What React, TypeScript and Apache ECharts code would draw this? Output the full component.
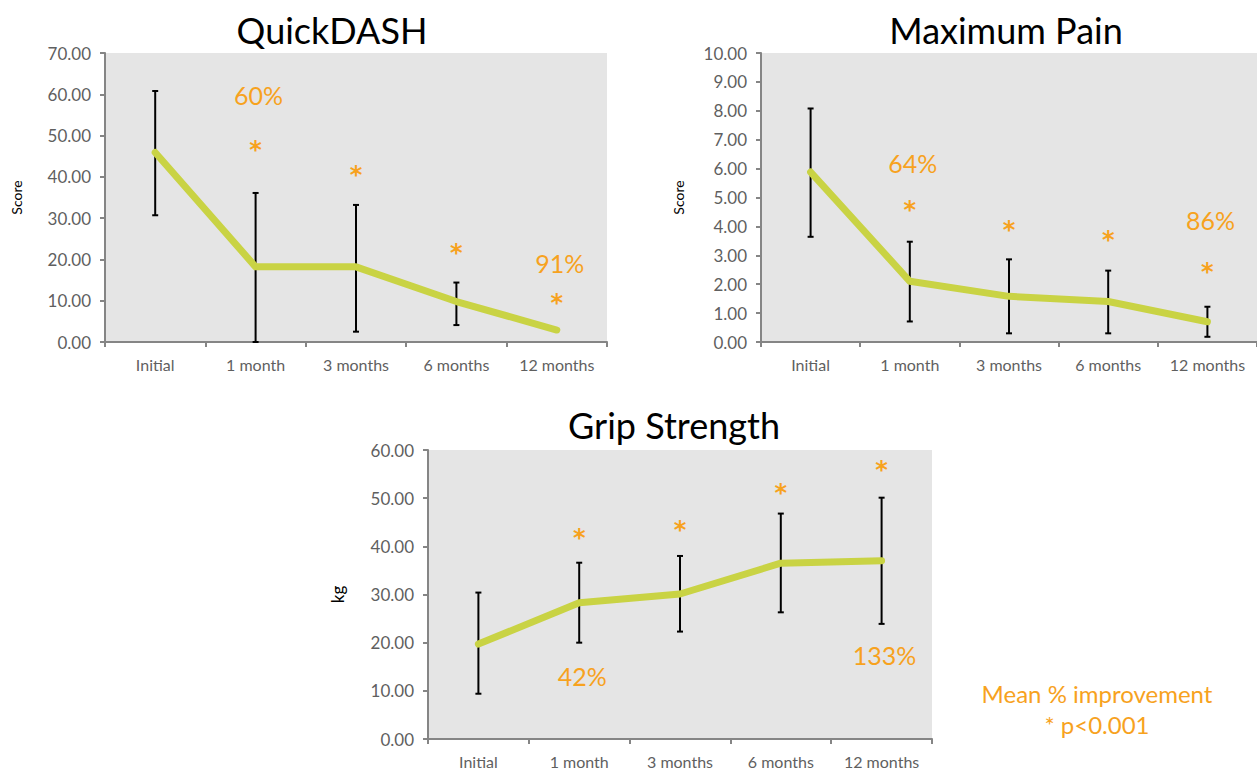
import React, { useEffect, useRef } from "react";
import * as echarts from "echarts";

const categories = ["Initial", "1 month", "3 months", "6 months", "12 months"];

const dashMean = [45.9, 18.2, 18.2, 9.8, 2.9];
const dashLow = [30.7, 0.0, 2.5, 4.1, 2.9];
const dashHigh = [60.8, 36.1, 33.2, 14.4, 2.9];
const dashStars = [null, 47.9, 41.9, 23.1, 11.0];
const dashPctCats = [1, 4];
const dashPctY = [59.8, 19.1];
const dashPctText = ["60%", "91%"];
const dashTicks = [0, 70, 10];

const painMean = [5.88, 2.1, 1.58, 1.4, 0.7];
const painLow = [3.64, 0.71, 0.3, 0.3, 0.18];
const painHigh = [8.08, 3.47, 2.86, 2.47, 1.22];
const painStars = [null, 4.77, 4.08, 3.75, 2.62];
const painPctCats = [1, 4];
const painPctY = [6.19, 4.21];
const painPctText = ["64%", "86%"];
const painTicks = [0, 10, 1];

const gripMean = [19.7, 28.3, 30.1, 36.5, 37.0];
const gripLow = [9.4, 20.0, 22.3, 26.3, 23.9];
const gripHigh = [30.4, 36.6, 38.0, 46.8, 50.1];
const gripStars = [null, 42.9, 44.7, 52.3, 57.1];
const gripPctCats = [1, 4];
const gripPctY = [13.1, 17.5];
const gripPctText = ["42%", "133%"];
const gripTicks = [0, 60, 10];

const titles = ["QuickDASH", "Maximum Pain", "Grip Strength"];
const yNames = ["Score", "Score", "kg"];
const noteLines = ["Mean % improvement", "* p<0.001"];

const FONT = "Lato, 'Noto Sans', sans-serif";
const STAR_FONT = "'DejaVu Sans', sans-serif";
const ORANGE = "#F7A21E";
const LINE = "#C9D344";
const AXIS = "#858585";
const LABEL = "#5f5f5f";

export default function App() {
  const ref = useRef<HTMLDivElement>(null);
  useEffect(() => {
    if (!ref.current) return;
    const chart = echarts.init(ref.current, null, { renderer: "svg" });

    const grids = [
      { left: 105, top: 53, width: 502, height: 289 },
      { left: 761, top: 53, width: 501.5, height: 289 },
      { left: 428, top: 450, width: 504, height: 289 },
    ];
    const sets = [
      { mean: dashMean, low: dashLow, high: dashHigh, stars: dashStars, pc: dashPctCats, py: dashPctY, pt: dashPctText, ticks: dashTicks },
      { mean: painMean, low: painLow, high: painHigh, stars: painStars, pc: painPctCats, py: painPctY, pt: painPctText, ticks: painTicks },
      { mean: gripMean, low: gripLow, high: gripHigh, stars: gripStars, pc: gripPctCats, py: gripPctY, pt: gripPctText, ticks: gripTicks },
    ];

    const xAxis: any[] = [];
    const yAxis: any[] = [];
    const series: any[] = [];

    sets.forEach((s, i) => {
      xAxis.push({
        type: "category",
        gridIndex: i,
        data: categories,
        boundaryGap: true,
        axisLine: { lineStyle: { color: AXIS, width: 2 } },
        axisTick: { show: true, length: 5, interval: 0, lineStyle: { color: AXIS, width: 2 } },
        axisLabel: { color: LABEL, fontSize: 16, fontFamily: FONT, margin: 14, interval: 0 },
        splitLine: { show: false },
      });
      yAxis.push({
        type: "value",
        gridIndex: i,
        min: s.ticks[0],
        max: s.ticks[1],
        interval: s.ticks[2],
        name: yNames[i],
        nameLocation: "middle",
        nameRotate: 90,
        nameGap: i === 1 ? 76 : 82,
        nameTextStyle: { color: "#000", fontSize: i === 2 ? 17 : 14, fontFamily: FONT },
        axisLine: { show: true, lineStyle: { color: AXIS, width: 2 } },
        axisTick: { show: true, length: 5, lineStyle: { color: AXIS, width: 2 } },
        axisLabel: { color: LABEL, fontSize: 17, fontFamily: FONT, margin: 14, formatter: (v: number) => v.toFixed(2) },
        splitLine: { show: false },
      });
      series.push({
        type: "custom",
        xAxisIndex: i,
        yAxisIndex: i,
        z: 2,
        data: categories.map((_, k) => [k, s.low[k], s.high[k]]),
        renderItem: (params: any, api: any) => {
          const x = api.value(0);
          const lo = api.value(1);
          const hi = api.value(2);
          if (lo === hi) return { type: "group", children: [] };
          const a = api.coord([x, lo]);
          const b = api.coord([x, hi]);
          const cap = 3;
          const st = { stroke: "#000", lineWidth: 2 };
          return {
            type: "group",
            children: [
              { type: "line", shape: { x1: a[0], y1: a[1], x2: b[0], y2: b[1] }, style: st },
              { type: "line", shape: { x1: a[0] - cap, y1: a[1], x2: a[0] + cap, y2: a[1] }, style: st },
              { type: "line", shape: { x1: b[0] - cap, y1: b[1], x2: b[0] + cap, y2: b[1] }, style: st },
            ],
          };
        },
      });
      series.push({
        type: "line",
        xAxisIndex: i,
        yAxisIndex: i,
        z: 3,
        data: s.mean,
        symbol: "none",
        lineStyle: { color: LINE, width: 7, cap: "round", join: "round" },
      });
      series.push({
        type: "custom",
        xAxisIndex: i,
        yAxisIndex: i,
        z: 4,
        data: s.stars.map((v, k) => [k, v]).filter((d) => d[1] !== null),
        renderItem: (params: any, api: any) => {
          const p = api.coord([api.value(0), api.value(1)]);
          return {
            type: "text",
            x: p[0],
            y: p[1] + 6,
            style: { text: "*", fill: ORANGE, fontSize: 24, fontWeight: "bold", fontFamily: STAR_FONT, align: "center", verticalAlign: "middle" },
          };
        },
      });
      series.push({
        type: "custom",
        xAxisIndex: i,
        yAxisIndex: i,
        z: 4,
        data: s.pc.map((c, k) => [c, s.py[k], s.pt[k]]),
        renderItem: (params: any, api: any) => {
          const p = api.coord([api.value(0), api.value(1)]);
          const t = s.pt[params.dataIndex];
          return {
            type: "text",
            x: p[0] + 3,
            y: p[1],
            style: { text: t, fill: ORANGE, fontSize: 25, fontFamily: FONT, align: "center", verticalAlign: "middle" },
          };
        },
      });
    });

    const titlePos = [
      [332, 30],
      [1006, 30],
      [674, 425],
    ];
    const graphic: any[] = titles.map((t, i) => ({
      type: "text",
      x: titlePos[i][0],
      y: titlePos[i][1],
      style: { text: t, fill: "#000", fontSize: 36, fontFamily: FONT, align: "center", verticalAlign: "middle" },
    }));
    noteLines.forEach((t, k) => {
      graphic.push({
        type: "text",
        x: 1097,
        y: 693 + k * 31,
        style: { text: t, fill: ORANGE, fontSize: 24, fontFamily: FONT, align: "center", verticalAlign: "middle" },
      });
    });

    chart.setOption({
      animation: false,
      backgroundColor: "#fff",
      grid: grids.map((g) => ({ ...g, show: true, backgroundColor: "#E5E5E5", borderWidth: 0 })),
      xAxis,
      yAxis,
      series,
      graphic,
    });
    return () => chart.dispose();
  }, []);
  return <div ref={ref} style={{ position: "fixed", left: 0, top: 0, width: 1257, height: 770 }} />;
}
